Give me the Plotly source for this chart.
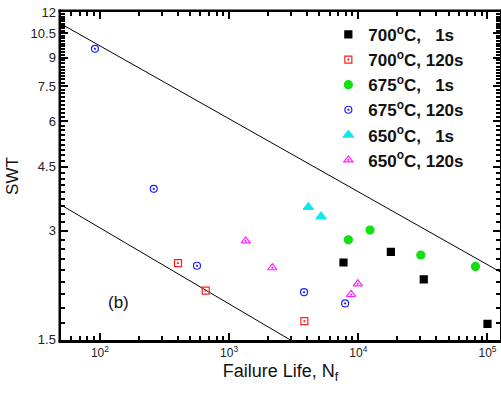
import math
import plotly.graph_objects as go

# ---- data ----
n_700_1 = [7680, 17870, 32100, 100000]
s_700_1 = [2.45, 2.62, 2.20, 1.66]

n_700_120 = [402, 659, 3824]
s_700_120 = [2.44, 2.05, 1.69]

n_675_1 = [8375, 12330, 30470, 80700]
s_675_1 = [2.83, 3.01, 2.57, 2.39]

n_675_120 = [91.5, 261, 564, 3802, 7907]
s_675_120 = [9.51, 3.91, 2.40, 2.03, 1.89]

n_650_1 = [4107, 5150]
s_650_1 = [3.48, 3.28]

n_650_120 = [1345, 2161, 9910, 8790]
s_650_120 = [2.81, 2.37, 2.14, 2.00]

upper_line_n = [50, 125000]
upper_line_s = [11.14, 2.31]
lower_line_n = [50, 2966]
lower_line_s = [3.53, 1.5]

y_ticks = [1.5, 3, 4.5, 6, 7.5, 9, 10.5, 12]
y_ticktext = ["1.5", "3", "4.5", "6", "7.5", "9", "10.5", "12"]
y_minor = [round(1.5 + k / 6, 4) for k in range(0, 64) if k % 9 != 0]
x_ticks = [100, 1000, 10000, 100000]
x_ticktext = ["10<sup>2</sup>", "10<sup>3</sup>", "10<sup>4</sup>", "10<sup>5</sup>"]
x_minor = [m * 10 ** e for e in range(1, 6) for m in range(2, 10) if 50 <= m * 10 ** e <= 125000]

names = ["700<sup>o</sup>C,\u00a0\u00a0\u00a01s", "700<sup>o</sup>C, 120s",
         "675<sup>o</sup>C,\u00a0\u00a0\u00a01s", "675<sup>o</sup>C, 120s",
         "650<sup>o</sup>C,\u00a0\u00a0\u00a01s", "650<sup>o</sup>C, 120s"]

X_RANGE = [math.log10(50) - 0.0005, math.log10(125000)]
Y_RANGE = [math.log10(1.5) - 0.0005, math.log10(12) + 0.0005]
FONT = "Liberation Sans, Arial, sans-serif"
PLOT_W, PLOT_H = 439, 328  # plot-area size in px (from margins below)

fig = go.Figure()

fig.add_trace(go.Scatter(x=upper_line_n, y=upper_line_s, mode="lines",
                         line=dict(color="black", width=1), showlegend=False))
fig.add_trace(go.Scatter(x=lower_line_n, y=lower_line_s, mode="lines",
                         line=dict(color="black", width=1), showlegend=False))

series = [
    (n_700_1, s_700_1, "square", "black", 7),
    (n_700_120, s_700_120, "square-open-dot", "#ff2020", 7),
    (n_675_1, s_675_1, "circle", "#11e011", 8),
    (n_675_120, s_675_120, "circle-open-dot", "#2020ff", 7),
    (n_650_1, s_650_1, "triangle-up", "#10e8e8", 9),
    (n_650_120, s_650_120, "triangle-up-open-dot", "#ff20ff", 8),
]
for (xs, ys, sym, col, sz), nm in zip(series, names):
    fig.add_trace(go.Scatter(x=xs, y=ys, mode="markers", name=nm,
                             marker=dict(symbol=sym, color=col, size=sz,
                                         line=dict(color=col, width=1.2))))

# minor ticks via overlay axes (placeholder trace activates them)
fig.add_trace(go.Scatter(x=[None], y=[None], xaxis="x2", yaxis="y2", showlegend=False,
                         hoverinfo="skip", mode="markers"))

fig.add_annotation(x=0.13, y=0.115, xref="paper", yref="paper", text="(b)",
                   xanchor="center", yanchor="middle",
                   showarrow=False, font=dict(family=FONT, size=17, color="#111"))

# plot frame as filled bars just outside the plot area (coincides with axis lines)
tx, ty = 2.5 / PLOT_W, 2.5 / PLOT_H
for x0, y0, x1, y1 in [(-tx, -ty, 0, 1 + ty), (1, -ty, 1 + tx, 1 + ty),
                       (-tx, -ty, 1 + tx, 0), (-tx, 1, 1 + tx, 1 + ty)]:
    fig.add_shape(type="rect", xref="paper", yref="paper", x0=x0, y0=y0, x1=x1, y1=y1,
                  line=dict(width=0), fillcolor="black", layer="above")

fig.update_layout(
    width=501, height=398,
    margin=dict(l=61, r=1, t=12, b=58, autoexpand=False),
    paper_bgcolor="white", plot_bgcolor="white",
    xaxis=dict(type="log", range=X_RANGE, tickmode="array",
               tickvals=x_ticks, ticktext=x_ticktext,
               showline=True, linecolor="black", linewidth=2.5, mirror="ticks",
               ticks="inside", ticklen=7, tickwidth=2, tickcolor="black",
               showgrid=False, zeroline=False, ticklabeloverflow="allow",
               tickfont=dict(family=FONT, size=12, color="#222"),
               title=dict(text="Failure Life, N<sub>f</sub>",
                          font=dict(family=FONT, size=18, color="#111"), standoff=6)),
    yaxis=dict(type="log", range=Y_RANGE, tickmode="array",
               tickvals=y_ticks, ticktext=y_ticktext,
               showline=True, linecolor="black", linewidth=2.5, mirror="ticks",
               ticks="inside", ticklen=7, tickwidth=2, tickcolor="black",
               showgrid=False, zeroline=False, ticklabeloverflow="allow",
               tickfont=dict(family=FONT, size=13, color="#222"),
               title=dict(text="SWT", font=dict(family=FONT, size=17, color="#111"),
                          standoff=8)),
    xaxis2=dict(type="log", range=X_RANGE, overlaying="x", anchor="y2", side="bottom",
                tickmode="array", tickvals=x_minor, ticks="inside", ticklen=4,
                tickwidth=2, tickcolor="black", mirror="ticks",
                showticklabels=False, showgrid=False, zeroline=False, showline=False),
    yaxis2=dict(type="log", range=Y_RANGE, overlaying="y", anchor="x2", side="left",
                tickmode="array", tickvals=y_minor, ticks="inside", ticklen=4,
                tickwidth=2, tickcolor="black", mirror="ticks",
                showticklabels=False, showgrid=False, zeroline=False, showline=False),
    legend=dict(x=0.609, y=0.985, xanchor="left", yanchor="top",
                bgcolor="rgba(0,0,0,0)",
                font=dict(family=FONT, size=17, color="#111", weight="bold"),
                tracegroupgap=0),
)

post = "document.body.style.margin='0';document.body.style.overflow='hidden';"
fig.write_html("out.html", config={"staticPlot": True}, post_script=post)
